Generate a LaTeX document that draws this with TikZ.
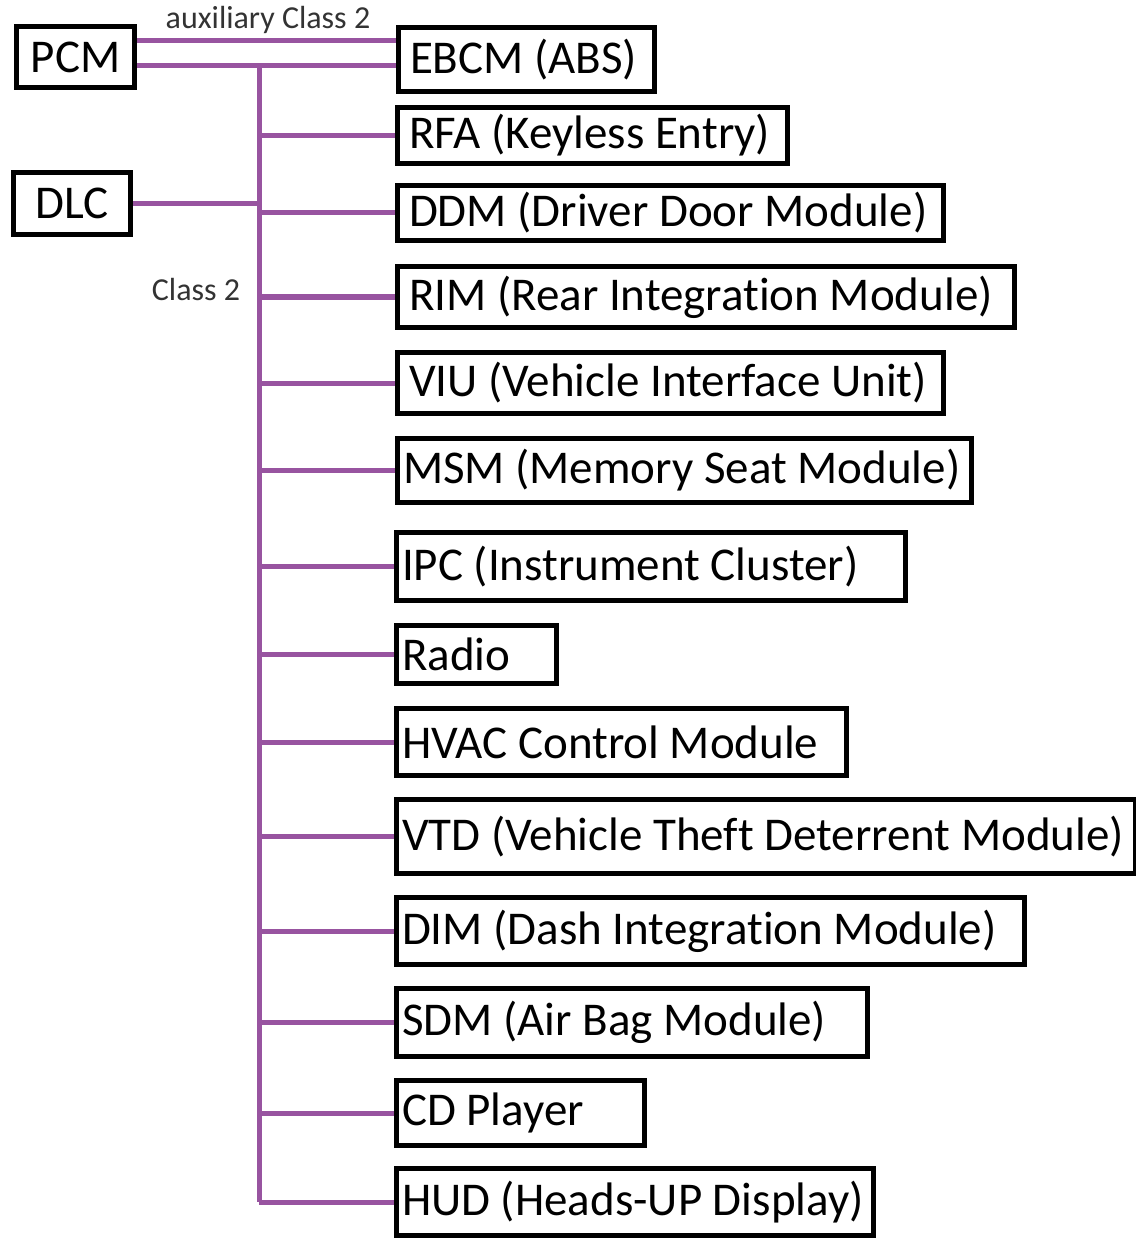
\documentclass[tikz,border=0pt]{standalone}
\usepackage{fontspec}
\setmainfont{Carlito}[Ligatures=CommonOff]
\usetikzlibrary{positioning}

\definecolor{classtwo}{RGB}{152,84,160}

\tikzset{
    module/.style={draw=black,line width=5pt,anchor=west,align=left,
        inner xsep=6pt,inner ysep=0pt,font=\fontsize{47}{53}\selectfont,
        execute at begin node={\spaceskip=0pt\xspaceskip=0pt}},
    wide/.style={inner xsep=12pt},
    ctrl/.style={draw=black,line width=5pt,inner sep=0pt,
        font=\fontsize{47}{53}\selectfont},
    bus/.style={draw=classtwo,line width=5pt},
    buslabel/.style={font=\fontsize{32}{36}\selectfont,text=black!80}
}

\begin{document}
\begin{tikzpicture}[x=1pt,y=-1pt]
    \useasboundingbox (0,0) rectangle (1135,1238);

    \node[ctrl,minimum width=118pt,minimum height=61pt] (PCM) at (75.5,57) {PCM};
    \node[ctrl,minimum width=117pt,minimum height=62pt] (DLC) at (72,203.5) {DLC};

    \node[module,wide,text width=232pt,minimum height=64pt] (EBCM) at (395.5,59.5) {\mbox{EBCM (ABS)}};
    \node[module,wide,text width=366pt,minimum height=56pt] (RFA) at (394.5,135.5) {\mbox{RFA (Keyless Entry)}};
    \node[module,wide,text width=522pt,minimum height=55pt] (DDM) at (394.5,213) {\mbox{DDM (Driver Door Module)}};
    \node[module,wide,text width=593pt,minimum height=61pt] (RIM) at (394.5,297) {\mbox{RIM (Rear Integration Module)}};
    \node[module,wide,text width=522pt,minimum height=61pt] (VIU) at (394.5,383) {\mbox{VIU (Vehicle Interface Unit)}};
    \node[module,text width=562pt,minimum height=64pt] (MSM) at (394.5,470.5) {\mbox{MSM (Memory Seat Module)}};
    \node[module,text width=497pt,minimum height=68pt] (IPC) at (393.5,566.5) {\mbox{IPC (Instrument Cluster)}};
    \node[module,text width=148pt,minimum height=58pt] (Radio) at (393.5,654.5) {\mbox{Radio}};
    \node[module,text width=438pt,minimum height=67pt] (HVAC) at (393.5,742) {\mbox{HVAC Control Module}};
    \node[module,text width=727pt,minimum height=74pt] (VTD) at (393.5,836.5) {\mbox{VTD (Vehicle Theft Deterrent Module)}};
    \node[module,text width=616pt,minimum height=67pt] (DIM) at (393.5,931) {\mbox{DIM (Dash Integration Module)}};
    \node[module,text width=459pt,minimum height=68pt] (SDM) at (393.5,1022.5) {\mbox{SDM (Air Bag Module)}};
    \node[module,text width=236pt,minimum height=65pt] (CD) at (393.5,1113) {\mbox{CD Player}};
    \node[module,text width=465pt,minimum height=67pt] (HUD) at (393.5,1202) {\mbox{HUD (Heads-UP Display)}};

    % PCM to EBCM, two lines
    \coordinate (aux) at (0,41);
    \coordinate (main) at (0,66);
    \draw[bus] (PCM.east |- aux) -- (EBCM.west |- aux);
    \draw[bus] (PCM.east |- main) -- (EBCM.west |- main);
    \node[buslabel] (auxlabel) at (268,20) {auxiliary Class 2};

    % Class 2 bus
    \coordinate (bustop) at (259,66);
    \coordinate (busend) at (259,1200);
    \draw[bus] (bustop) -- (busend |- HUD.west);
    \draw[bus] (DLC.east) -- (bustop |- DLC.east);
    \node[buslabel] (classlabel) at (196,290) {Class 2};
    \foreach \m in {RFA,DDM,RIM,VIU,MSM,IPC,Radio,HVAC,VTD,DIM,SDM,CD,HUD}
        \draw[bus] (bustop |- \m.west) -- (\m.west);
\end{tikzpicture}
\end{document}
